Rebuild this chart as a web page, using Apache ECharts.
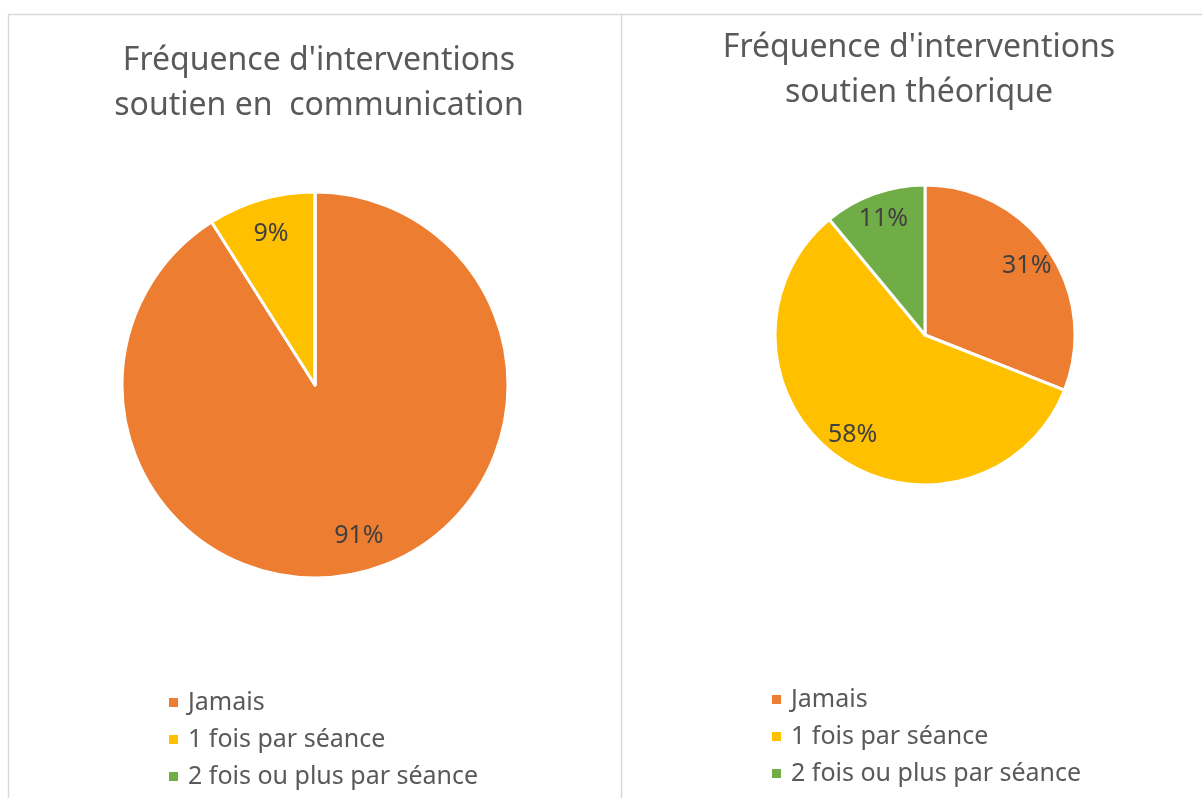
<!DOCTYPE html>
<html lang="fr">
<head>
    <meta charset="UTF-8">
    <title>Fréquence d'interventions</title>
    <script src="https://cdn.jsdelivr.net/npm/echarts@6/dist/echarts.min.js"></script>
    <style>
        html, body { margin: 0; padding: 0; background: #fff; }
        #chart { width: 1202px; height: 798px; }
    </style>
</head>
<body>
<div id="chart"></div>
<script type="text/javascript">
    // categories and values (percent)
    var categories = ['Jamais', '1 fois par séance', '2 fois ou plus par séance'];
    var communication = [91, 9, 0];
    var theorique = [31, 58, 11];
    var titles = ["Fréquence d'interventions\nsoutien en  communication", "Fréquence d'interventions\nsoutien théorique"];
    var colors = ['#ED7D31', '#FFC000', '#70AD47'];

    var font = 'Noto Sans';

    function toData(values) {
        return categories.map(function (name, i) {
            return { name: name, value: values[i] };
        });
    }

    // real slices
    function pieSeries(values, center, radius) {
        return {
            type: 'pie',
            center: center,
            radius: radius,
            startAngle: 90,
            clockwise: true,
            percentPrecision: 0,
            silent: true,
            label: { show: false },
            labelLine: { show: false },
            itemStyle: { borderColor: '#fff', borderWidth: 3 },
            data: toData(values)
        };
    }

    // transparent ring, only to put the labels further out like Excel
    function labelSeries(values, center, radius) {
        return {
            type: 'pie',
            center: center,
            radius: [radius * 0.6, radius],
            startAngle: 90,
            clockwise: true,
            percentPrecision: 0,
            silent: true,
            legendHoverLink: false,
            itemStyle: { color: 'rgba(0,0,0,0)', borderWidth: 0 },
            label: {
                show: true,
                position: 'inside',
                fontFamily: font,
                fontSize: 25,
                color: '#404040',
                formatter: function (p) {
                    return p.value > 0 ? p.percent + '%' : '';
                }
            },
            labelLine: { show: false },
            data: toData(values)
        };
    }

    var chart = echarts.init(document.getElementById('chart'));

    var legendCommon = {
        orient: 'vertical',
        data: categories,
        icon: 'rect',
        itemWidth: 11,
        itemHeight: 11,
        itemGap: 12,
        selectedMode: false,
        textStyle: { fontFamily: font, fontSize: 25, lineHeight: 25, color: '#595959', padding: [0, 0, 0, 4] }
    };

    var titleStyle = { fontFamily: font, fontSize: 32, fontWeight: 'normal', lineHeight: 45, color: '#595959' };

    chart.setOption({
        color: colors,
        animation: false,
        title: [
            { text: titles[0], left: 314, top: 33, textAlign: 'center', textStyle: titleStyle },
            { text: titles[1], left: 914, top: 20, textAlign: 'center', textStyle: titleStyle }
        ],
        legend: [
            Object.assign({ left: 162, top: 685 }, legendCommon),
            Object.assign({ left: 765, top: 682 }, legendCommon)
        ],
        graphic: [
            {
                type: 'rect',
                shape: { x: 8.5, y: 14.5, width: 1220, height: 800 },
                style: { fill: 'none', stroke: '#D9D9D9', lineWidth: 1.5 },
                silent: true
            },
            {
                type: 'line',
                shape: { x1: 621.5, y1: 14, x2: 621.5, y2: 798 },
                style: { stroke: '#D9D9D9', lineWidth: 1.5 },
                silent: true
            }
        ],
        series: [
            pieSeries(communication, [315, 385], 193),
            pieSeries(theorique, [925, 335], 150),
            labelSeries(communication, [315, 385], 193),
            labelSeries(theorique, [925, 335], 150)
        ]
    });
</script>
</body>
</html>
